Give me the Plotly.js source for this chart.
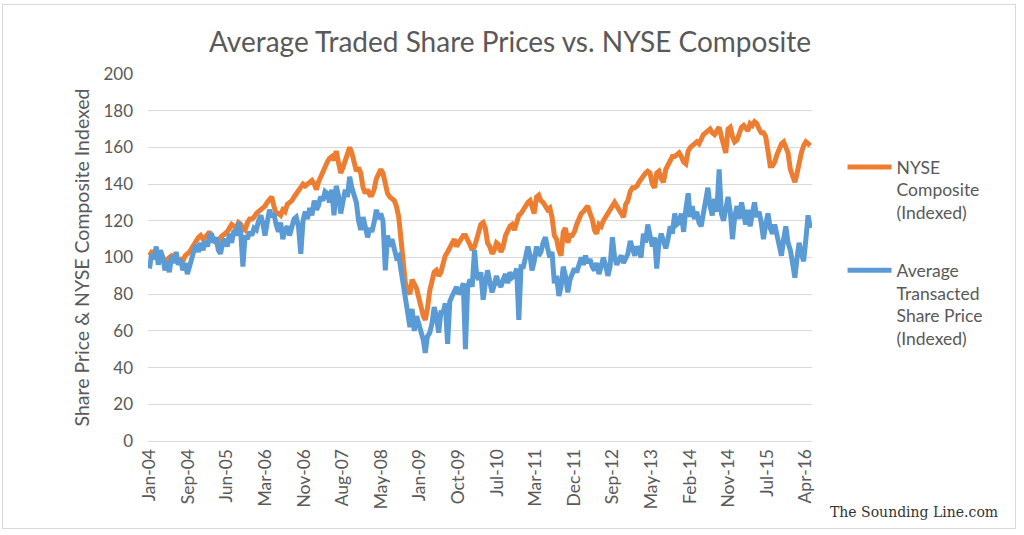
<!DOCTYPE html>
<html>
<head>
<meta charset="utf-8">
<script src="https://cdn.plot.ly/plotly-3.0.1.min.js"></script>
<style>
  html, body { margin: 0; padding: 0; background: #ffffff; }
  #wrap { position: relative; width: 1024px; height: 535px; }
  #chart { position: absolute; left: 0; top: 0; width: 1024px; height: 535px; }
  #frame { position: absolute; left: 2px; top: 4px; width: 1012px; height: 523px; border: 1px solid #d9d9d9; pointer-events: none; }
</style>
</head>
<body>
<div id="wrap"><div id="chart"></div><div id="frame"></div></div>
<script>
// ---- Data ----
// NYSE Composite (Indexed): two values per month (1st and 16th), Jan 2004 .. May 2016
const nyseHalfMonthly = [
  101,103,103,102,102,100,100, 98, 99,100,101,100, 99, 98, 99, 98,101,102,103,105,107,110,111,112, // 2004
  110,111,113,114,111,109,108,107,111,112,113,114,116,118,117,116,119,118,116,115,119,121,121,122, // 2005
  124,125,126,127,128,130,132,133,128,124,124,123,126,125,129,130,131,133,135,137,138,140,139,140, // 2006
  141,142,140,137,141,144,147,149,152,154,155,153,158,152,146,149,153,157,160,157,152,147,149,146, // 2007
  138,135,137,134,134,137,143,145,148,146,139,135,133,132,131,128,122,110, 96, 86, 82, 80, 88, 86, // 2008
   83, 78, 72, 68, 66, 72, 82, 86, 92, 93, 90, 92, 98,101,103,105,107,110,106,108,111,112,112,110, // 2009
  107,104,106,110,115,118,119,116,108,106,102,104,108,107,103,106,112,115,117,118,115,119,123,124, // 2010
  126,129,130,131,128,124,133,134,131,130,128,126,127,122,112,110,104,101,114,116,108,112,112,114, // 2011
  118,121,124,125,127,128,124,121,115,113,118,117,120,122,124,126,129,130,128,126,125,122,129,131, // 2012
  136,138,138,139,141,143,144,146,147,146,140,138,146,147,143,141,148,150,153,155,155,156,157,155, // 2013
  152,151,158,160,161,162,163,162,165,167,168,169,170,168,167,169,171,166,160,157,170,171,166,163, // 2014
  164,168,171,172,170,169,173,172,174,173,170,168,168,166,158,150,150,152,156,160,162,163,159,157, // 2015
  148,144,141,146,153,157,161,163,162,161                                                          // 2016
];
// Average Transacted Share Price (Indexed): two values per month (1st and 16th)
const avgHalfMonthly = [
   94,102, 99,106, 96,104,100, 93, 98, 92,101, 97,103, 96, 99, 93, 97, 91, 95,100,104,107,103,108, // 2004
  104,109,106,112,113,108,111,104,102,108,110,106,113,108,115,112,119,114, 95,112,110,114,112,116, // 2005
  115,120,123,118,112,119,126,122,124,118,114,119,110,115,117,112,118,121,122,117,102,120,125,121, // 2006
  127,123,131,126,128,133,131,136,135,130,137,123,139,134,124,130,137,133,144,138,134,130,120,115, // 2007
  122,117,111,116,114,119,126,121,124,120, 93,112,106,110,103,100,101, 92, 84, 78, 70, 62, 72, 60, // 2008
   68, 64, 58, 55, 48, 57, 59, 64, 73, 68, 59, 70, 70, 75, 53, 76, 79, 82, 84, 80, 82, 86, 50, 84, // 2009
   88, 84,104, 90, 88, 92, 77, 86, 93, 87, 81, 85, 90, 86, 84, 88, 91, 86, 92, 89, 90, 94, 66, 95, // 2010
   95,100,106,101, 93, 98,106,101,103,108,111,105,100,103, 86, 90, 79, 84, 95, 90, 81, 88, 91, 94, // 2011
   92, 97,100, 96,101, 97, 99, 95, 93, 97, 91, 95,100, 96, 90, 95,111,100, 96, 99,101, 97, 99,102, // 2012
  109,104,101,106,104,100,113,108,118,112,106,111, 94,108,113,109,105,110,117,113,124,118,119,124, // 2013
  114,126,135,122,128,121,125,119,117,124,131,138,128,123,132,125,148,124,120,126,133,125,110,122, // 2014
  128,121,130,124,118,126,117,124,130,122,125,119,110,118,124,116,113,118,112,108,101,110,117,108, // 2015
  104, 97, 89,100,108,102, 98,110,123,116                                                          // 2016
];
// Axis tick labels (one every 264 days from 1 Jan 2004)
const tickLabels = ['Jan-04','Sep-04','Jun-05','Mar-06','Nov-06','Aug-07','May-08','Jan-09','Oct-09',
                    'Jul-10','Mar-11','Dec-11','Sep-12','May-13','Feb-14','Nov-14','Jul-15','Apr-16'];
const yTicks = [0,20,40,60,80,100,120,140,160,180,200];
const seriesNames = ['NYSE<br>Composite<br>(Indexed)', 'Average<br>Transacted<br>Share Price<br>(Indexed)'];

// ---- Build the date categories (1st and 16th of each month) ----
function pad(n){ return (n < 10 ? '0' : '') + n; }
function halfDates(n) {
  const out = [];
  for (let i = 0; i < n; i++) {
    const k = Math.floor(i / 2);
    const y = 2004 + Math.floor(k / 12), mo = (k % 12) + 1;
    out.push(y + '-' + pad(mo) + (i % 2 === 0 ? '-01' : '-16'));
  }
  return out;
}
const tickVals = tickLabels.map((_, k) => {
  const d = new Date(Date.UTC(2004, 0, 1) + k * 264 * 86400000);
  return d.toISOString().slice(0, 10);
});

const font = 'Lato, "Open Sans", sans-serif';
const grey = '#595959';

const traces = [
  { x: halfDates(nyseHalfMonthly.length), y: nyseHalfMonthly, type: 'scatter', mode: 'lines', name: seriesNames[0],
    line: { color: '#ED7D31', width: 5 }, legendgroup: 'a' },
  { x: halfDates(avgHalfMonthly.length), y: avgHalfMonthly, type: 'scatter', mode: 'lines', name: seriesNames[1],
    line: { color: '#5B9BD5', width: 5 }, legendgroup: 'b' }
];

const layout = {
  width: 1024, height: 535,
  paper_bgcolor: 'rgba(0,0,0,0)', plot_bgcolor: '#ffffff',
  margin: { l: 148, r: 212, t: 74, b: 94, autoexpand: false },
  font: { family: font, color: grey, size: 15 },
  title: { text: 'Average Traded Share Prices vs. NYSE Composite', x: 510 / 1024, xref: 'container', xanchor: 'center',
           y: 1 - 42 / 535, yref: 'container', yanchor: 'middle', font: { family: font, size: 28, color: grey } },
  xaxis: {
    type: 'date', range: ['2003-12-22', '2016-05-28'],
    tickmode: 'array', tickvals: tickVals, ticktext: tickLabels, tickangle: -90,
    tickfont: { size: 17.5, color: grey, family: font },
    showgrid: false, showline: true, linecolor: '#d9d9d9', linewidth: 1, ticks: '', zeroline: false
  },
  yaxis: {
    range: [0, 200], tickmode: 'array', tickvals: yTicks, ticks: '', ticklabelstandoff: 14,
    tickfont: { size: 17, color: grey, family: font },
    showgrid: true, gridcolor: '#d9d9d9', gridwidth: 1, zeroline: false, showline: false,
    title: { text: 'Share Price & NYSE Composite Indexed', font: { size: 19.5, color: grey, family: font }, standoff: 8 }
  },
  legend: {
    x: 1.046, xanchor: 'left', y: (441 - 149) / 367, yanchor: 'top', valign: 'top',
    font: { size: 17.5, color: grey, family: font }, itemwidth: 44,
    traceorder: 'grouped', tracegroupgap: 32, bgcolor: 'rgba(0,0,0,0)'
  },
  showlegend: true,
  annotations: [{
    text: 'The Sounding Line.com', xref: 'paper', yref: 'paper',
    x: (1000 - 148) / 664, xanchor: 'right', y: (441 - 512) / 367, yanchor: 'middle',
    showarrow: false, font: { family: '"DejaVu Serif", serif', size: 14, color: '#333333' }
  }]
};

Plotly.newPlot('chart', traces, layout, { staticPlot: true, displayModeBar: false });
</script>
</body>
</html>
